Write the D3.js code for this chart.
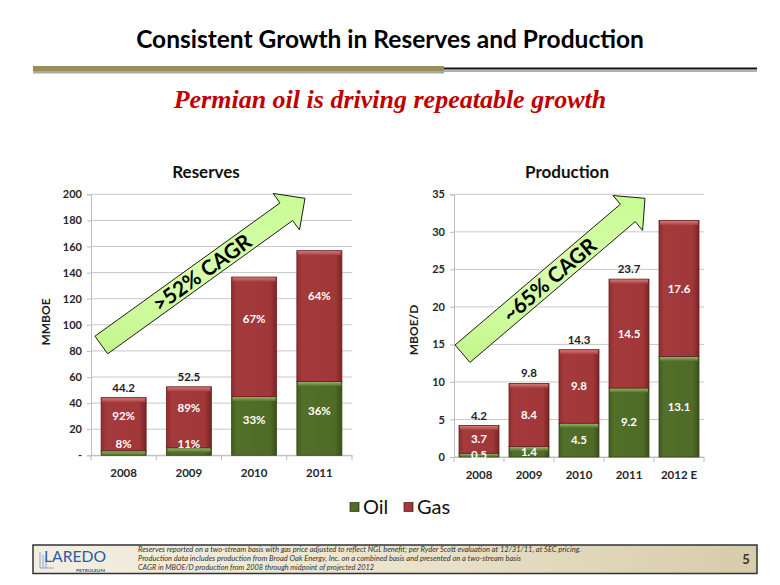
<!DOCTYPE html>
<html><head><meta charset="utf-8">
<script src="https://cdn.jsdelivr.net/npm/d3@7"></script>
<style>
html,body{margin:0;padding:0;background:#fff;}
svg{display:block;}
</style></head>
<body>
<svg id="c" width="780" height="585"></svg>
<script>
// ---------- DATA ----------
const reservesYears = ["2008", "2009", "2010", "2011"];
const reservesOil = [3.5, 5.8, 45.0, 56.6];
const reservesGas = [40.7, 46.7, 91.6, 100.2];
const reservesOilLabels = ["8%", "11%", "33%", "36%"];
const reservesGasLabels = ["92%", "89%", "67%", "64%"];
const reservesTotalLabels = ["44.2", "52.5", "", ""];
const reservesTicks = [0, 20, 40, 60, 80, 100, 120, 140, 160, 180, 200];

const prodYears = ["2008", "2009", "2010", "2011", "2012 E"];
const prodOil = [0.5, 1.4, 4.5, 9.2, 13.4];
const prodGas = [3.7, 8.4, 9.8, 14.5, 18.1];
const prodOilLabels = ["0.5", "1.4", "4.5", "9.2", "13.1"];
const prodGasLabels = ["3.7", "8.4", "9.8", "14.5", "17.6"];
const prodTotalLabels = ["4.2", "9.8", "14.3", "23.7", ""];
const prodTicks = [0, 5, 10, 15, 20, 25, 30, 35];

const legendItems = ["Oil", "Gas"];
const footnotes = [
  "Reserves reported on a two-stream basis with gas price adjusted to reflect NGL benefit; per Ryder Scott evaluation at 12/31/11, at SEC pricing.",
  "Production data includes production from Broad Oak Energy, Inc. on a combined basis and presented on a two-stream basis",
  "CAGR in MBOE/D production from 2008 through midpoint of projected 2012"
];

// ---------- SETUP ----------
const svg = d3.select("#c");
const SANS = "Lato, 'Open Sans', sans-serif";
const defs = svg.append("defs");

function lg(id, stops, x2, y2) {
  const g = defs.append("linearGradient").attr("id", id)
    .attr("x1", 0).attr("y1", 0).attr("x2", x2).attr("y2", y2);
  stops.forEach(s => g.append("stop").attr("offset", s[0]).attr("stop-color", s[1]));
}
lg("gasG", [[0, "#8e2e30"], [0.12, "#a43a3c"], [0.85, "#a03739"], [1, "#7a2426"]], 1, 0);
lg("oilG", [[0, "#435c1e"], [0.12, "#52702a"], [0.85, "#4f6b27"], [1, "#3b5017"]], 1, 0);
lg("gasTop", [[0, "#d07a78"], [1, "#a8403f"]], 0, 1);
lg("oilTop", [[0, "#93b065"], [1, "#587530"]], 0, 1);
lg("arrowG", [[0, "#c8fb92"], [0.5, "#d8ffae"], [1, "#c2f58a"]], 0, 1);
lg("footG", [[0, "#f3efe0"], [0.5, "#ebe4cc"], [1, "#d6ccaa"]], 1, 0);

// ---------- HEADER ----------
svg.append("text").attr("x", 390).attr("y", 48).attr("text-anchor", "middle")
  .attr("font-family", SANS).attr("font-weight", "bold").attr("font-size", 24.5)
  .attr("fill", "#000").text("Consistent Growth in Reserves and Production");

svg.append("rect").attr("x", 33).attr("y", 66).attr("width", 411).attr("height", 5).attr("fill", "#9b8c5c");
svg.append("rect").attr("x", 33).attr("y", 71).attr("width", 411).attr("height", 2.5).attr("fill", "#a8a8a8");
svg.append("rect").attr("x", 444).attr("y", 67.5).attr("width", 313).attr("height", 2).attr("fill", "#111");
svg.append("rect").attr("x", 444).attr("y", 70).attr("width", 313).attr("height", 2).attr("fill", "#b0b0b0");

svg.append("text").attr("x", 390).attr("y", 108).attr("text-anchor", "middle")
  .attr("font-family", "'Liberation Serif', 'Times New Roman', serif")
  .attr("font-weight", "bold").attr("font-style", "italic").attr("font-size", 26)
  .attr("fill", "#c00000").text("Permian oil is driving repeatable growth");

// ---------- CHART FUNCTION ----------
function drawChart(cfg) {
  const g = svg.append("g");
  const x = d3.scaleBand().domain(cfg.years).range([cfg.x0, cfg.x1])
    .paddingInner(cfg.pi).paddingOuter(cfg.po);
  const y = d3.scaleLinear().domain([0, cfg.max]).range([cfg.yb, cfg.yt]);

  // gridlines
  g.append("g").selectAll("line").data(cfg.ticks).join("line")
    .attr("x1", cfg.x0).attr("x2", cfg.x1)
    .attr("y1", d => y(d)).attr("y2", d => y(d))
    .attr("stroke", "#c8c8c8").attr("stroke-width", 1);
  // y axis
  const ya = d3.axisLeft(y).tickValues(cfg.ticks).tickSize(4).tickPadding(5)
    .tickFormat(cfg.tickFmt);
  const yg = g.append("g").attr("transform", `translate(${cfg.x0},0)`).call(ya);
  yg.select(".domain").attr("stroke", "#bdbdbd");
  yg.selectAll(".tick line").attr("stroke", "#bdbdbd");
  yg.selectAll("text").attr("font-family", SANS).attr("font-weight", "bold")
    .attr("font-size", 11).attr("fill", "#262626");
  // x axis
  const xa = d3.axisBottom(x).tickSize(0).tickPadding(14);
  const xg = g.append("g").attr("transform", `translate(0,${cfg.yb})`).call(xa);
  xg.select(".domain").attr("stroke", "#bdbdbd");
  xg.selectAll("text").attr("font-family", SANS).attr("font-weight", "bold")
    .attr("font-size", 11.5).attr("fill", "#262626");
  // category separator ticks
  const bounds = [cfg.x0].concat(cfg.years.map(d => x(d) + x.bandwidth() + x.step() * x.paddingInner() / 2));
  xg.selectAll("line.sep").data(bounds).join("line").attr("class", "sep")
    .attr("x1", d => d).attr("x2", d => d).attr("y1", 0).attr("y2", 5)
    .attr("stroke", "#bdbdbd");

  // axis title
  g.append("text").attr("transform", `translate(${cfg.axX},${cfg.axY}) rotate(-90)`)
    .attr("text-anchor", "middle").attr("font-family", SANS).attr("font-weight", "bold")
    .attr("font-size", 12).attr("fill", "#1a1a1a").text(cfg.axTitle);
  // chart title
  g.append("text").attr("x", cfg.titleX).attr("y", 178).attr("text-anchor", "middle")
    .attr("font-family", SANS).attr("font-weight", "bold").attr("font-size", 17)
    .attr("fill", "#111").text(cfg.title);

  // stacked bars
  const rows = cfg.years.map((yr, i) => ({ yr, i, oil: cfg.oil[i], gas: cfg.gas[i] }));
  const stack = d3.stack().keys(["oil", "gas"])(rows);
  const bw = x.bandwidth();
  stack.forEach(layer => {
    const key = layer.key;
    const lg_ = g.append("g");
    layer.forEach((d, i) => {
      const yr = cfg.years[i];
      const top = y(d[1]), bot = y(d[0]);
      const h = bot - top;
      lg_.append("rect").attr("x", x(yr)).attr("y", top).attr("width", bw).attr("height", h)
        .attr("fill", `url(#${key}G)`).attr("stroke", key === "gas" ? "#6a1f21" : "#34471a")
        .attr("stroke-width", 0.8);
      lg_.append("rect").attr("x", x(yr) + 1).attr("y", top + 0.5).attr("width", bw - 2)
        .attr("height", Math.min(4, h - 1)).attr("fill", `url(#${key}Top)`);
    });
  });

  // segment labels
  rows.forEach((r, i) => {
    const bx = x(r.yr) + bw / 2;
    const oilBase = y(0), oilTop = y(r.oil), gasTop = y(r.oil + r.gas);
    let oy = oilBase - Math.max((oilBase - oilTop) * cfg.labFrac, cfg.minLab);
    let gy = oilTop - (oilTop - gasTop) * cfg.gasFrac;
    g.append("text").attr("x", bx).attr("y", oy).attr("dy", "0.35em").attr("text-anchor", "middle")
      .attr("font-family", SANS).attr("font-weight", "bold").attr("font-size", 11.5)
      .attr("fill", "#fff").text(cfg.oilLabels[i]);
    g.append("text").attr("x", bx).attr("y", gy).attr("dy", "0.35em").attr("text-anchor", "middle")
      .attr("font-family", SANS).attr("font-weight", "bold").attr("font-size", 11.5)
      .attr("fill", "#fff").text(cfg.gasLabels[i]);
    if (cfg.totalLabels[i]) {
      g.append("text").attr("x", bx).attr("y", gasTop - 10).attr("dy", "0.35em").attr("text-anchor", "middle")
        .attr("font-family", SANS).attr("font-weight", "bold").attr("font-size", 11.5)
        .attr("fill", "#222").text(cfg.totalLabels[i]);
    }
  });

  // growth arrow
  const a = cfg.arrow;
  const dx = a.tip[0] - a.tail[0], dy = a.tip[1] - a.tail[1];
  const L = Math.hypot(dx, dy), ux = dx / L, uy = dy / L, px = -uy, py = ux;
  const hb = [a.tip[0] - ux * a.hl, a.tip[1] - uy * a.hl];
  const P = (c, s) => [c[0] + px * s, c[1] + py * s];
  const pts = [P(a.tail, -a.w / 2), P(hb, -a.w / 2), P(hb, -a.hw / 2), a.tip,
               P(hb, a.hw / 2), P(hb, a.w / 2), P(a.tail, a.w / 2)];
  g.append("polygon").attr("points", pts.map(p => p.join(",")).join(" "))
    .attr("fill", "url(#arrowG)").attr("stroke", "#1a1a1a").attr("stroke-width", 1)
    .attr("stroke-linejoin", "miter");
  const ang = Math.atan2(dy, dx) * 180 / Math.PI;
  const tc = [a.tail[0] + ux * a.textT, a.tail[1] + uy * a.textT];
  g.append("text").attr("transform", `translate(${tc[0]},${tc[1]}) rotate(${ang})`)
    .attr("text-anchor", "middle").attr("dy", "0.36em")
    .attr("font-family", SANS).attr("font-weight", "bold").attr("font-size", 21)
    .attr("fill", "#000").text(a.text);
}

drawChart({
  years: reservesYears, oil: reservesOil, gas: reservesGas,
  oilLabels: reservesOilLabels, gasLabels: reservesGasLabels, totalLabels: reservesTotalLabels,
  ticks: reservesTicks, max: 200, tickFmt: d => d === 0 ? "-" : d,
  x0: 91, x1: 352, pi: 0.31, po: 0.155, yb: 455.3, yt: 194.3,
  labFrac: 0.6, minLab: 11, gasFrac: 0.65,
  axTitle: "MMBOE", axX: 50, axY: 322, title: "Reserves", titleX: 206,
  arrow: { tail: [101.3, 345], tip: [305, 198.3], w: 21.7, hw: 45, hl: 23, textT: 124, text: ">52% CAGR" }
});

drawChart({
  years: prodYears, oil: prodOil, gas: prodGas,
  oilLabels: prodOilLabels, gasLabels: prodGasLabels, totalLabels: prodTotalLabels,
  ticks: prodTicks, max: 35, tickFmt: d => d,
  x0: 454, x1: 704, pi: 0.2, po: 0.1, yb: 457, yt: 194.3,
  labFrac: 0.5, minLab: 0, gasFrac: 0.5,
  axTitle: "MBOE/D", axX: 418, axY: 330, title: "Production", titleX: 567,
  arrow: { tail: [462.5, 353.7], tip: [645, 198.3], w: 22.9, hw: 45.7, hl: 22.6, textT: 114, text: "~65% CAGR" }
});

// ---------- LEGEND ----------
const lgd = svg.append("g");
const legendX = [350, 404];
const legendFill = ["oil", "gas"];
legendItems.forEach((t, i) => {
  lgd.append("rect").attr("x", legendX[i]).attr("y", 502.5).attr("width", 9).attr("height", 9)
    .attr("fill", `url(#${legendFill[i]}G)`).attr("stroke", i === 0 ? "#34471a" : "#6a1f21").attr("stroke-width", 0.8);
  lgd.append("text").attr("x", legendX[i] + 13).attr("y", 514)
    .attr("font-family", SANS).attr("font-size", 20).attr("fill", "#111").text(t);
});

// ---------- FOOTER ----------
svg.append("rect").attr("x", 33).attr("y", 545).attr("width", 724).attr("height", 28.5)
  .attr("fill", "url(#footG)").attr("stroke", "#333").attr("stroke-width", 1.5);
// logo
const logo = svg.append("g");
[0, 3, 6].forEach(o => logo.append("line").attr("x1", 40 + o).attr("x2", 40 + o)
  .attr("y1", 552 + o).attr("y2", 568).attr("stroke", "#8aa4d0").attr("stroke-width", 1));
logo.append("line").attr("x1", 40).attr("x2", 54).attr("y1", 568).attr("y2", 568).attr("stroke", "#8aa4d0");
logo.append("text").attr("x", 44).attr("y", 562).attr("font-family", SANS).attr("font-size", 16)
  .attr("fill", "#2a5aa8").attr("textLength", 62).attr("lengthAdjust", "spacingAndGlyphs").text("LAREDO");
logo.append("text").attr("x", 76).attr("y", 571.5).attr("font-family", SANS).attr("font-weight", "bold").attr("font-size", 4)
  .attr("fill", "#2a5aa8").attr("textLength", 29).attr("lengthAdjust", "spacingAndGlyphs").text("PETROLEUM");

const fnLen = [443, 383, 236];
footnotes.forEach((t, i) => {
  svg.append("text").attr("x", 138).attr("y", 551.5 + i * 9)
    .attr("font-family", SANS).attr("font-style", "italic").attr("font-size", 7.6)
    .attr("fill", "#333").attr("textLength", fnLen[i]).attr("lengthAdjust", "spacingAndGlyphs").text(t);
});
svg.append("text").attr("x", 746).attr("y", 564).attr("text-anchor", "middle")
  .attr("font-family", SANS).attr("font-weight", "bold").attr("font-size", 13).attr("fill", "#333").text("5");
</script>
</body></html>
